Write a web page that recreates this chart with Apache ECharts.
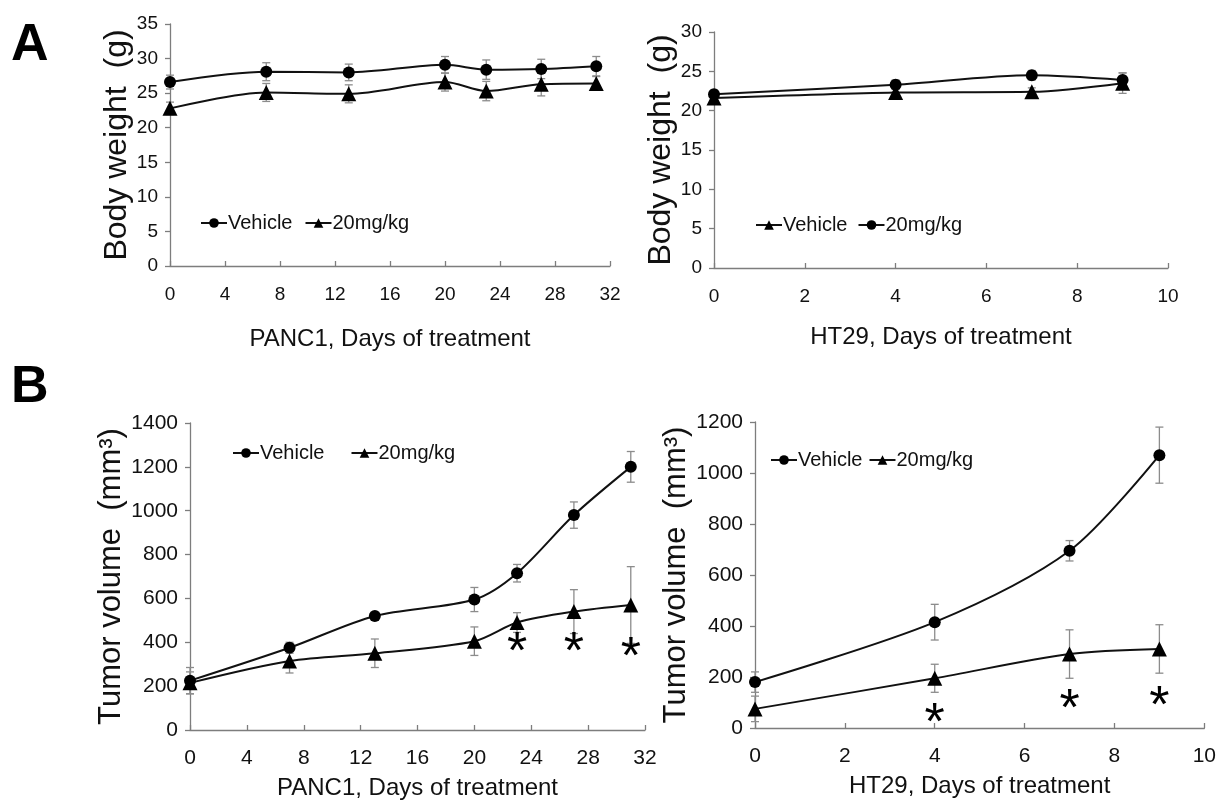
<!DOCTYPE html>
<html>
<head>
<meta charset="utf-8">
<title>Body weight and tumor volume</title>
<script src="https://cdn.jsdelivr.net/npm/echarts@6/dist/echarts.min.js"></script>
<style>
  html, body { margin: 0; padding: 0; background: #fff; }
  #chart { width: 1219px; height: 803px; }
</style>
</head>
<body>
<div id="chart"></div>
<script>
// ---- data ----
// A: body weight (g)
var panc1Days = [0, 7, 13, 20, 23, 27, 31]
var panc1WeightVehicle = [26.6, 28.1, 28.0, 29.1, 28.4, 28.5, 28.9]
var panc1WeightVehicleErr = [1.0, 1.3, 1.2, 1.2, 1.4, 1.4, 1.4]
var panc1WeightDrug = [22.8, 25.1, 24.9, 26.6, 25.3, 26.3, 26.4]
var panc1WeightDrugErr = [0.9, 1.3, 1.3, 1.3, 1.4, 1.7, 1.0]

var ht29Days = [0, 4, 7, 9]
var ht29WeightVehicle = [21.6, 22.3, 22.4, 23.5]   // triangles in this panel
var ht29WeightVehicleErr = [0.5, 0.5, 0.5, 1.3]
var ht29WeightDrug = [22.1, 23.3, 24.5, 23.9]      // circles in this panel
var ht29WeightDrugErr = [0.5, 0.6, 0.6, 0.9]

// B: tumor volume (mm3)
var panc1TumorVehicle = [225, 375, 520, 595, 715, 980, 1200]
var panc1TumorVehicleErr = [60, 25, 15, 55, 40, 60, 70]
var panc1TumorDrug = [215, 315, 350, 405, 490, 540, 570]
var panc1TumorDrugErr = [50, 55, 65, 65, 45, 100, 175]
var panc1StarDays = [23, 27, 31]
var panc1StarLevel = [404, 404, 381]

var ht29TumorVehicle = [180, 415, 695, 1070]
var ht29TumorVehicleErr = [40, 70, 40, 110]
var ht29TumorDrug = [75, 195, 290, 310]
var ht29TumorDrugErr = [50, 55, 95, 95]
var ht29StarDays = [4, 7, 9]
var ht29StarLevel = [59, 114, 125]

var sans = "'Liberation Sans', Arial, sans-serif"
var ink = '#111'
var axisGray = '#7d7d7d'

function pairs(xs, ys) {
    return xs.map(function (x, i) { return [x, ys[i]] })
}

function lineSeries(name, gi, xs, ys, symbol) {
    return {
        type: 'line',
        name: name,
        xAxisIndex: gi,
        yAxisIndex: gi,
        data: pairs(xs, ys),
        smooth: 0.3,
        symbol: symbol,
        symbolSize: symbol == 'triangle' ? 15 : 12,
        lineStyle: { color: ink, width: 2 },
        itemStyle: { color: '#000' },
        z: 3
    }
}

// error bars (mean +/- err) drawn through the axis scales
function errSeries(gi, xs, ys, es) {
    return {
        type: 'custom',
        xAxisIndex: gi,
        yAxisIndex: gi,
        silent: true,
        z: 2,
        encode: { x: 0, y: [1, 2] },
        data: xs.map(function (x, i) { return [x, ys[i] - es[i], ys[i] + es[i]] }),
        renderItem: function (params, api) {
            var x = api.value(0)
            var lo = api.coord([x, api.value(1)])
            var hi = api.coord([x, api.value(2)])
            var w = 4
            var st = { stroke: '#8c8c8c', lineWidth: 1.3 }
            return {
                type: 'group',
                children: [
                    { type: 'line', shape: { x1: lo[0], y1: lo[1], x2: hi[0], y2: hi[1] }, style: st },
                    { type: 'line', shape: { x1: lo[0] - w, y1: lo[1], x2: lo[0] + w, y2: lo[1] }, style: st },
                    { type: 'line', shape: { x1: hi[0] - w, y1: hi[1], x2: hi[0] + w, y2: hi[1] }, style: st }
                ]
            }
        }
    }
}

function starSeries(gi, xs, ys) {
    return {
        type: 'scatter',
        xAxisIndex: gi,
        yAxisIndex: gi,
        silent: true,
        data: pairs(xs, ys),
        symbolSize: 1,
        itemStyle: { color: 'rgba(0,0,0,0)', opacity: 1 },
        label: {
            show: true,
            position: 'inside',
            formatter: '*',
            fontSize: 52,
            fontFamily: sans,
            color: '#000',
            opacity: 1,
            textBorderWidth: 0,
            offset: [0, 12]
        },
        z: 4
    }
}

function plain(v) { return String(v) }

function xAxisOf(gi, max, interval, name, labelSize, nameGap, labelMargin) {
    return {
        gridIndex: gi,
        type: 'value',
        min: 0,
        max: max,
        interval: interval,
        axisLine: { show: true, onZero: false, lineStyle: { color: axisGray, width: 1.3 } },
        axisTick: { show: true, inside: true, length: 5, lineStyle: { color: axisGray, width: 1.3 } },
        axisLabel: { fontSize: labelSize, color: ink, fontFamily: sans, margin: labelMargin, formatter: plain },
        splitLine: { show: false },
        name: name,
        nameLocation: 'middle',
        nameGap: nameGap,
        nameTextStyle: { fontSize: 24, color: ink, fontFamily: sans }
    }
}

function yAxisOf(gi, max, interval, name, labelSize, nameGap, nameSize) {
    return {
        gridIndex: gi,
        type: 'value',
        min: 0,
        max: max,
        interval: interval,
        axisLine: { show: true, lineStyle: { color: axisGray, width: 1.3 } },
        axisTick: { show: true, inside: false, length: 5, lineStyle: { color: axisGray, width: 1.3 } },
        axisLabel: { fontSize: labelSize, color: ink, fontFamily: sans, margin: 12, formatter: plain },
        splitLine: { show: false },
        name: name,
        nameLocation: 'middle',
        nameGap: nameGap,
        nameRotate: 90,
        nameTextStyle: { fontSize: nameSize, color: ink, fontFamily: sans }
    }
}

function legendOf(names, left, top, gap) {
    return {
        data: names,
        left: left,
        top: top,
        padding: 0,
        orient: 'horizontal',
        itemWidth: 26,
        itemHeight: 12,
        itemGap: gap,
        selectedMode: false,
        formatter: function (n) { return n.split('|')[1] },
        textStyle: { fontSize: 20, color: ink, fontFamily: sans, padding: [0, 0, 0, -4] }
    }
}

var chart = echarts.init(document.getElementById('chart'), null, { renderer: 'canvas' })

var option = {
    backgroundColor: '#fff',
    animation: false,
    graphic: [
        { type: 'text', left: 11, top: 20, style: { text: 'A', fontSize: 52, fontWeight: 'bold', fontFamily: sans, fill: '#000' } },
        { type: 'text', left: 11, top: 362, style: { text: 'B', fontSize: 52, fontWeight: 'bold', fontFamily: sans, fill: '#000' } }
    ],
    grid: [
        { left: 170, top: 24, width: 440, height: 242 },
        { left: 714, top: 32, width: 454, height: 236 },
        { left: 190, top: 423, width: 455, height: 307 },
        { left: 755, top: 422, width: 450, height: 306 }
    ],
    xAxis: [
        xAxisOf(0, 32, 4, 'PANC1, Days of treatment', 19, 61, 19),
        xAxisOf(1, 10, 2, 'HT29, Days of treatment', 19, 57, 19),
        xAxisOf(2, 32, 4, 'PANC1, Days of treatment', 21, 46, 18),
        xAxisOf(3, 10, 2, 'HT29, Days of treatment', 21, 46, 18)
    ],
    yAxis: [
        yAxisOf(0, 35, 5, 'Body weight  (g)', 19, 36, 32),
        yAxisOf(1, 30, 5, 'Body weight  (g)', 19, 36, 32),
        yAxisOf(2, 1400, 200, 'Tumor volume  (mm³)', 21, 44, 31),
        yAxisOf(3, 1200, 200, 'Tumor volume  (mm³)', 21, 49, 31)
    ],
    legend: [
        legendOf(['a|Vehicle', 'b|20mg/kg'], 200, 213, 12),
        legendOf(['d|Vehicle', 'c|20mg/kg'], 755, 215, 10),
        legendOf(['e|Vehicle', 'f|20mg/kg'], 232, 443, 26),
        legendOf(['g|Vehicle', 'h|20mg/kg'], 770, 450, 6)
    ],
    series: [
        // A, PANC1
        errSeries(0, panc1Days, panc1WeightVehicle, panc1WeightVehicleErr),
        errSeries(0, panc1Days, panc1WeightDrug, panc1WeightDrugErr),
        lineSeries('a|Vehicle', 0, panc1Days, panc1WeightVehicle, 'circle'),
        lineSeries('b|20mg/kg', 0, panc1Days, panc1WeightDrug, 'triangle'),
        // A, HT29 (markers swapped in the original legend)
        errSeries(1, ht29Days, ht29WeightDrug, ht29WeightDrugErr),
        errSeries(1, ht29Days, ht29WeightVehicle, ht29WeightVehicleErr),
        lineSeries('c|20mg/kg', 1, ht29Days, ht29WeightDrug, 'circle'),
        lineSeries('d|Vehicle', 1, ht29Days, ht29WeightVehicle, 'triangle'),
        // B, PANC1
        errSeries(2, panc1Days, panc1TumorVehicle, panc1TumorVehicleErr),
        errSeries(2, panc1Days, panc1TumorDrug, panc1TumorDrugErr),
        lineSeries('e|Vehicle', 2, panc1Days, panc1TumorVehicle, 'circle'),
        lineSeries('f|20mg/kg', 2, panc1Days, panc1TumorDrug, 'triangle'),
        starSeries(2, panc1StarDays, panc1StarLevel),
        // B, HT29
        errSeries(3, ht29Days, ht29TumorVehicle, ht29TumorVehicleErr),
        errSeries(3, ht29Days, ht29TumorDrug, ht29TumorDrugErr),
        lineSeries('g|Vehicle', 3, ht29Days, ht29TumorVehicle, 'circle'),
        lineSeries('h|20mg/kg', 3, ht29Days, ht29TumorDrug, 'triangle'),
        starSeries(3, ht29StarDays, ht29StarLevel)
    ]
}

chart.setOption(option)
</script>
</body>
</html>
